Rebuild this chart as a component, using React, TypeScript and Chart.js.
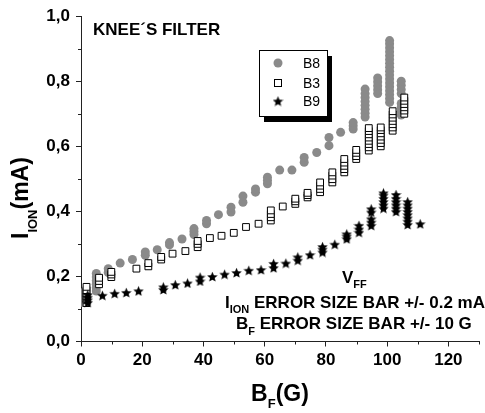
import React, { useEffect, useRef } from 'react';
import { Chart, registerables } from 'chart.js';

Chart.register(...registerables);

const FONT = '"Liberation Sans", Arial, Helvetica, sans-serif';

// ---- data: magnetic field B_F (G) and ion current (mA) ----
const seriesNames = ['B8', 'B3', 'B9'];

const b8Field = [0.5, 5, 8.9, 12.8, 16.8, 21, 24.9, 28.9, 33, 36.9, 41, 44.9, 49, 52.9, 57, 60.9, 64.9, 68.9, 72.9, 77, 81, 84.8, 88.9, 92.8, 96.9, 100.8, 104.6];
const b8Current = [
  [0.12, 0.13, 0.14, 0.15],
  [0.155, 0.165, 0.176, 0.187, 0.198, 0.209],
  [0.212, 0.224],
  [0.241],
  [0.252],
  [0.265, 0.275],
  [0.282],
  [0.297, 0.304],
  [0.315],
  [0.329, 0.338, 0.347],
  [0.362, 0.372],
  [0.39],
  [0.398, 0.413],
  [0.428, 0.447],
  [0.459, 0.469],
  [0.485, 0.495, 0.505],
  [0.527],
  [0.527],
  [0.551, 0.566],
  [0.581],
  [0.602, 0.627],
  [0.643],
  [0.653, 0.663, 0.673],
  [0.69, 0.702, 0.714, 0.726, 0.738, 0.75, 0.762, 0.776],
  [0.762, 0.774, 0.786, 0.798, 0.81],
  [0.735, 0.747, 0.759, 0.771, 0.783, 0.795, 0.807, 0.819, 0.831, 0.843, 0.855, 0.867, 0.879, 0.891, 0.903, 0.915, 0.925],
  [0.696, 0.708, 0.72, 0.732, 0.762, 0.775, 0.788, 0.8],
];

const b3Field = [1.8, 5.9, 9.9, 18.1, 22, 26.2, 29.9, 34.1, 38.1, 42.1, 45.9, 49.9, 53.9, 58, 62, 65.9, 70, 74, 78.1, 82.1, 86, 89.9, 94, 97.9, 101.8, 105.6];
const b3Current = [
  [0.118, 0.128, 0.138, 0.148, 0.158, 0.168],
  [0.176, 0.186, 0.196],
  [0.198, 0.206, 0.214],
  [0.224],
  [0.231, 0.241],
  [0.252, 0.26],
  [0.27],
  [0.278],
  [0.29, 0.3, 0.309],
  [0.318],
  [0.325],
  [0.334],
  [0.352],
  [0.362],
  [0.372, 0.382, 0.392, 0.403],
  [0.415],
  [0.423, 0.431, 0.439],
  [0.443, 0.45, 0.457],
  [0.459, 0.469, 0.479, 0.489],
  [0.489, 0.499, 0.51, 0.52],
  [0.52, 0.53, 0.54, 0.55, 0.561],
  [0.561, 0.57, 0.58, 0.589],
  [0.587, 0.597, 0.607, 0.617, 0.627, 0.637, 0.647, 0.656],
  [0.6, 0.61, 0.62, 0.63, 0.64, 0.65, 0.658],
  [0.648, 0.658, 0.668, 0.678, 0.688, 0.698, 0.708],
  [0.7, 0.71, 0.72, 0.73, 0.74, 0.75],
];

const b9Field = [2.2, 7, 11, 14.8, 18.8, 26.9, 30.8, 34.8, 38.9, 42.9, 46.9, 50.8, 54.8, 58.8, 62.9, 66.9, 70.8, 74.8, 78.9, 82.9, 86.8, 90.8, 94.8, 98.8, 102.9, 106.7, 110.8];
const b9Current = [
  [0.12, 0.128, 0.136, 0.144],
  [0.142],
  [0.148],
  [0.151],
  [0.156],
  [0.16, 0.168],
  [0.175],
  [0.18],
  [0.186, 0.198],
  [0.2],
  [0.207],
  [0.212],
  [0.219],
  [0.221],
  [0.227, 0.24],
  [0.241],
  [0.25, 0.26],
  [0.267],
  [0.275, 0.284, 0.292],
  [0.299],
  [0.316, 0.324, 0.331],
  [0.336, 0.346, 0.357],
  [0.357, 0.367, 0.377, 0.398, 0.408],
  [0.41, 0.42, 0.43, 0.44, 0.45, 0.457],
  [0.4, 0.41, 0.42, 0.43, 0.44, 0.452],
  [0.36, 0.37, 0.38, 0.39, 0.4, 0.41, 0.42, 0.43],
  [0.362],
];

const xTickValues = [0, 20, 40, 60, 80, 100, 120];
const xMinorValues = [10, 30, 50, 70, 90, 110, 130];
const yTickValues = [0, 0.2, 0.4, 0.6, 0.8, 1.0];
const yMinorValues = [0.1, 0.3, 0.5, 0.7, 0.9];

const GRAY = '#8a8a8a';
const AXIS = '#222222';

function toPoints(fields: number[], currents: number[][]) {
  const pts: { x: number; y: number }[] = [];
  fields.forEach((f, i) => currents[i].forEach((c) => pts.push({ x: f, y: c })));
  return pts;
}

function makeStar(size: number, color: string) {
  const c = document.createElement('canvas');
  c.width = size;
  c.height = size;
  const g = c.getContext('2d')!;
  const cx = size / 2;
  const cy = size / 2 + size * 0.06;
  const R = size / 2;
  const r = R * 0.45;
  g.beginPath();
  for (let i = 0; i < 10; i++) {
    const rad = i % 2 === 0 ? R : r;
    const a = -Math.PI / 2 + (i * Math.PI) / 5;
    const px = cx + rad * Math.cos(a);
    const py = cy + rad * Math.sin(a);
    if (i === 0) g.moveTo(px, py);
    else g.lineTo(px, py);
  }
  g.closePath();
  g.fillStyle = color;
  g.fill();
  return c;
}

type Seg = { t: string; sub?: boolean };

function drawSegs(ctx: CanvasRenderingContext2D, x: number, y: number, segs: Seg[], main: number, sub: number, subDrop: number) {
  let cx = x;
  for (const s of segs) {
    ctx.font = `bold ${s.sub ? sub : main}px ${FONT}`;
    ctx.fillText(s.t, cx, s.sub ? y + subDrop : y);
    cx += ctx.measureText(s.t).width;
  }
  return cx - x;
}

function segsWidth(ctx: CanvasRenderingContext2D, segs: Seg[], main: number, sub: number) {
  let w = 0;
  for (const s of segs) {
    ctx.font = `bold ${s.sub ? sub : main}px ${FONT}`;
    w += ctx.measureText(s.t).width;
  }
  return w;
}

export default function App() {
  const ref = useRef<HTMLCanvasElement | null>(null);

  useEffect(() => {
    document.body.style.margin = '0';
    const canvas = ref.current;
    if (!canvas) return;
    const star = makeStar(11, '#000');

    const decorations = {
      id: 'decorations',
      afterDraw(chart: any) {
        const ctx: CanvasRenderingContext2D = chart.ctx;
        const area = chart.chartArea;
        const xs = chart.scales.x;
        const ys = chart.scales.y;
        ctx.save();

        // minor ticks
        ctx.strokeStyle = AXIS;
        ctx.lineWidth = 1;
        ctx.beginPath();
        for (const v of xMinorValues) {
          const px = Math.round(xs.getPixelForValue(v)) + 0.5;
          ctx.moveTo(px, area.bottom);
          ctx.lineTo(px, area.bottom + 3);
        }
        for (const v of yMinorValues) {
          const py = Math.round(ys.getPixelForValue(v)) + 0.5;
          ctx.moveTo(area.left - 3, py);
          ctx.lineTo(area.left, py);
        }
        ctx.stroke();

        ctx.fillStyle = '#000';
        ctx.textBaseline = 'alphabetic';
        ctx.textAlign = 'left';

        // axis titles
        const xt: Seg[] = [{ t: 'B' }, { t: 'F', sub: true }, { t: '(G)' }];
        const xw = segsWidth(ctx, xt, 23, 13);
        drawSegs(ctx, (area.left + area.right) / 2 - xw / 2, 401, xt, 23, 13, 7);

        const yt: Seg[] = [{ t: 'I' }, { t: 'ION', sub: true }, { t: '(mA)' }];
        ctx.save();
        ctx.translate(28, 239);
        ctx.rotate(-Math.PI / 2);
        drawSegs(ctx, 0, 0, yt, 23, 13, 9);
        ctx.restore();

        // title inside plot
        ctx.font = `bold 17px ${FONT}`;
        ctx.fillText('KNEE\u00B4S FILTER', 93, 35);

        // annotations
        drawSegs(ctx, 342, 283, [{ t: 'V' }, { t: 'FF', sub: true }], 17, 11, 5);
        drawSegs(ctx, 225, 308, [{ t: 'I' }, { t: 'ION', sub: true }, { t: ' ERROR SIZE BAR +/- 0.2 mA' }], 17, 11, 5);
        drawSegs(ctx, 236, 329, [{ t: 'B' }, { t: 'F', sub: true }, { t: ' ERROR SIZE BAR +/- 10 G' }], 17, 11, 6);

        // legend box with shadow
        const lx = 259.5, ly = 50.5, lw = 68, lh = 66;
        ctx.fillStyle = '#000';
        ctx.fillRect(lx + 4.5, ly + 5.5, lw, lh);
        ctx.fillStyle = '#fff';
        ctx.fillRect(lx, ly, lw, lh);
        ctx.strokeStyle = '#000';
        ctx.lineWidth = 1;
        ctx.strokeRect(lx, ly, lw, lh);

        const rows = [63, 83, 101];
        const mx = 278;
        ctx.fillStyle = GRAY;
        ctx.beginPath();
        ctx.arc(mx, rows[0], 4.5, 0, Math.PI * 2);
        ctx.fill();
        ctx.fillStyle = '#fff';
        ctx.strokeStyle = '#000';
        ctx.fillRect(mx - 3.5, rows[1] - 3.5, 7, 7);
        ctx.strokeRect(mx - 3.5, rows[1] - 3.5, 7, 7);
        ctx.drawImage(star, mx - 5.5, rows[2] - 5.5);

        ctx.fillStyle = '#000';
        ctx.font = `14px ${FONT}`;
        ctx.textBaseline = 'middle';
        seriesNames.forEach((n, i) => ctx.fillText(n, 303, rows[i] + 1));

        ctx.restore();
      },
    };

    const chart = new Chart(canvas, {
      type: 'scatter',
      data: {
        datasets: [
          {
            label: seriesNames[0],
            data: toPoints(b8Field, b8Current),
            pointStyle: 'circle',
            pointRadius: 4.5,
            backgroundColor: GRAY,
            borderColor: GRAY,
            borderWidth: 0,
            order: 3,
          },
          {
            label: seriesNames[1],
            data: toPoints(b3Field, b3Current),
            pointStyle: 'rect',
            pointRadius: 4.8,
            backgroundColor: '#fff',
            borderColor: '#000',
            borderWidth: 1,
            order: 2,
          },
          {
            label: seriesNames[2],
            data: toPoints(b9Field, b9Current),
            pointStyle: star as any,
            pointRadius: 5,
            backgroundColor: '#000',
            borderColor: '#000',
            order: 1,
          },
        ],
      },
      options: {
        responsive: false,
        animation: false,
        events: [],
        layout: { padding: { top: 15, right: 3, left: 0, bottom: 0 } },
        plugins: { legend: { display: false }, tooltip: { enabled: false } },
        scales: {
          x: {
            type: 'linear',
            min: 0,
            max: 130,
            afterBuildTicks: (s: any) => {
              s.ticks = xTickValues.map((v) => ({ value: v }));
            },
            afterFit: (s: any) => {
              s.height = 71.5;
            },
            grid: { drawOnChartArea: false, drawTicks: true, tickLength: 5, color: AXIS },
            border: { color: AXIS, width: 1 },
            ticks: {
              color: '#000',
              padding: 4,
              maxRotation: 0,
              autoSkip: false,
              font: { family: FONT, size: 17, weight: 'bold' },
            },
          },
          y: {
            type: 'linear',
            min: 0,
            max: 1,
            afterBuildTicks: (s: any) => {
              s.ticks = yTickValues.map((v) => ({ value: v }));
            },
            afterFit: (s: any) => {
              s.width = 81;
            },
            grid: { drawOnChartArea: false, drawTicks: true, tickLength: 5, color: AXIS },
            border: { color: AXIS, width: 1 },
            ticks: {
              color: '#000',
              padding: 6,
              autoSkip: false,
              callback: (v: any) => Number(v).toFixed(1).replace('.', ','),
              font: { family: FONT, size: 17, weight: 'bold' },
            },
          },
        },
      },
      plugins: [decorations],
    } as any);

    return () => chart.destroy();
  }, []);

  return (
    <div style={{ width: 485, height: 413 }}>
      <canvas ref={ref} width={485} height={413} style={{ display: 'block', width: 485, height: 413 }} />
    </div>
  );
}
